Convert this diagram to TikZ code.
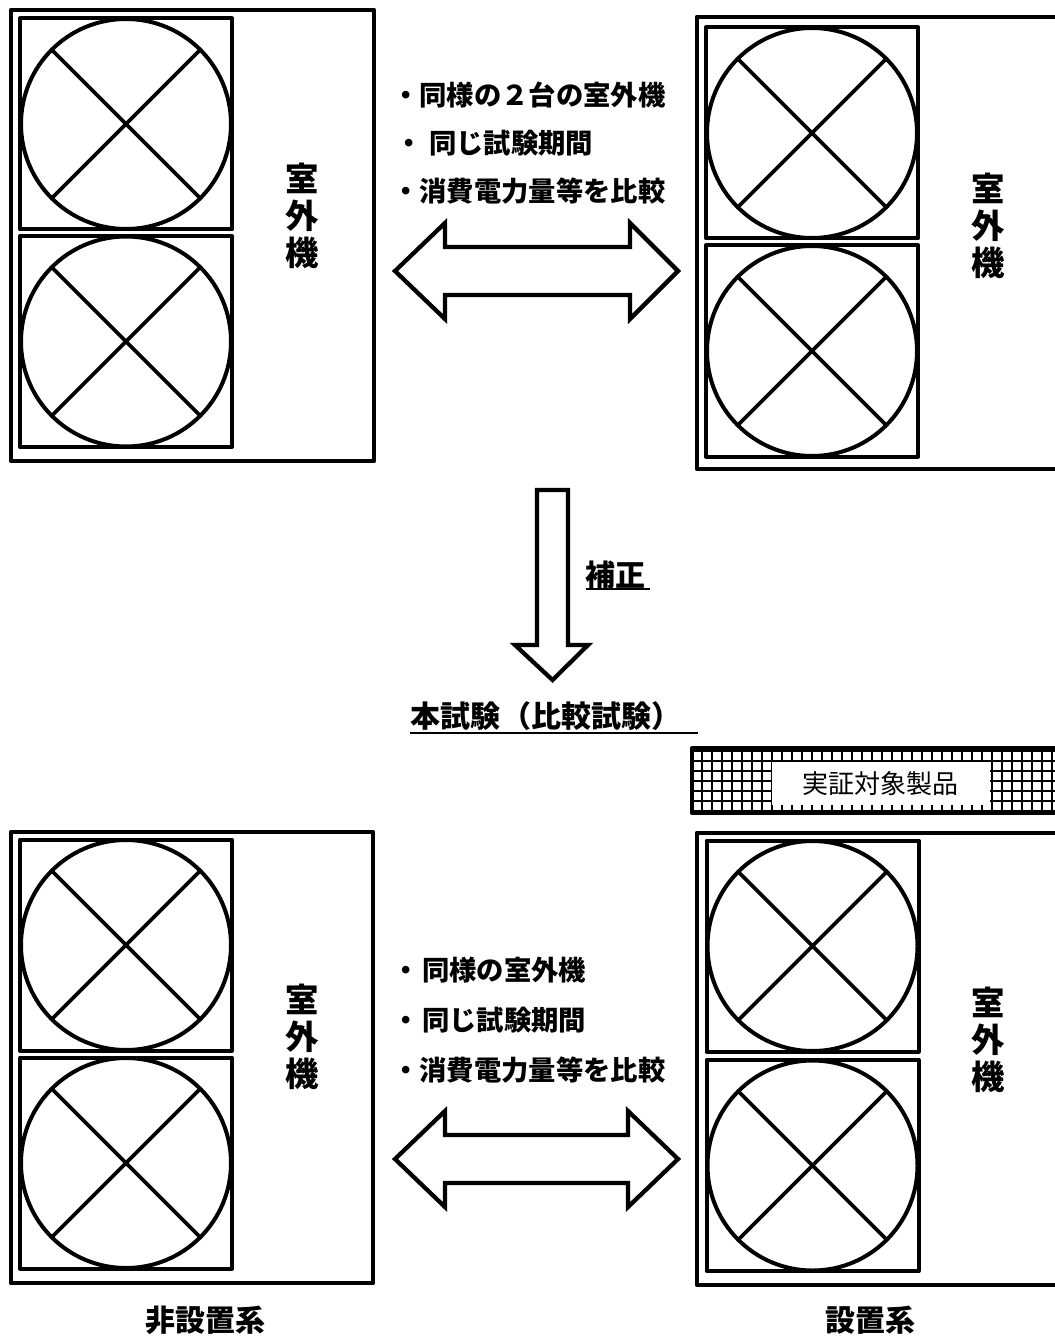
\documentclass[tikz,border=0pt]{standalone}
\usepackage{fontspec}
\newfontfamily\jp{Noto Sans CJK JP}
\newcommand\fanbox[2]{%
  \begin{scope}
    \clip (#1-106,#2-105.5) rectangle (#1+106,#2+105.5);
    \draw[fanline] (#1,#2) circle[radius=105];
  \end{scope}
  \draw[fanline] (#1-106,#2-105.5) rectangle (#1+106,#2+105.5);
  \draw[xline] (#1-74,#2-74) -- (#1+74,#2+74);
  \draw[xline] (#1-74,#2+74) -- (#1+74,#2-74);
}
\begin{document}
\begin{tikzpicture}[x=0.75pt,y=-0.75pt,
  outer/.style={line width=3.4pt,line join=round},
  fanline/.style={line width=3pt,line join=round},
  xline/.style={line width=2.7pt},
  blockarrow/.style={line width=3.2pt,line join=miter,fill=white},
  unitlabel/.style={font=\jp\bfseries\fontsize{25}{27.5}\selectfont,align=center,inner sep=0pt},
  bullet/.style={font=\jp\bfseries\fontsize{20.5}{24}\selectfont,anchor=west,inner sep=0pt},
  title/.style={font=\jp\bfseries\fontsize{22.5}{26}\selectfont,inner sep=0pt},
  uline/.style={line width=1.5pt}]
\useasboundingbox (0,0) rectangle (1055,1337);
\clip (0,0) rectangle (1055,1337);

% ---------- top left unit ----------
\draw[outer] (11,10) rectangle (374,461);
\fanbox{126}{124}
\fanbox{126}{341.5}
\node[unitlabel] (tlLabel) at (302,216) {室\\外\\機};

% ---------- top right unit ----------
\draw[outer] (697,17) rectangle (1070,469);
\fanbox{812}{133}
\fanbox{812}{351}
\node[unitlabel] (trLabel) at (988,226) {室\\外\\機};

% ---------- top texts ----------
\node[bullet] (t1) at (392,95) {・同様の２台の室外機};
\node[bullet] (t2) at (395,143) {・\hspace{5pt}同じ試験期間};
\node[bullet] (t3) at (392,191) {・消費電力量等を比較};

% ---------- top double arrow ----------
\coordinate (tal) at (395,271);
\coordinate (tar) at (678,271);
\draw[blockarrow] (tal) -- (445,223) -- (445,247) -- (630,247) -- (630,223) -- (tar)
  -- (630,319) -- (630,295) -- (445,295) -- (445,319) -- cycle;

% ---------- down arrow ----------
\coordinate (dtop) at (552.5,490);
\coordinate (dtip) at (552.5,680);
\draw[blockarrow] (537,490) -- (568,490) -- (568,645) -- (588,645) -- (dtip)
  -- (515,645) -- (537,645) -- cycle;
\node[title,anchor=west] (hosei) at (585,575) {補正};
\draw[uline] (586,589) -- (650,589);

\node[title,anchor=west] (honshiken) at (410,716) {本試験\hspace{1pt}（比較試験）};
\draw[uline] (410,733) -- (698,733);

% ---------- product bar ----------
\begin{scope}
  \clip (692,748) rectangle (1070,813);
  \foreach \gx in {692,702,...,1072} \draw[line width=1pt] (\gx,748) -- (\gx,813);
  \foreach \gy in {751,761,...,813} \draw[line width=1pt] (692,\gy) -- (1070,\gy);
\end{scope}
\fill[white] (772,762) rectangle (990,805);
\draw[line width=3pt,line join=round] (692,748) rectangle (1070,813);
\node[font=\jp\fontsize{19.5}{22}\selectfont,inner sep=0pt] (product) at (880,784) {実証対象製品};

% ---------- bottom left unit ----------
\draw[outer] (11,832) rectangle (373,1283);
\fanbox{126}{945}
\fanbox{126}{1163}
\node[unitlabel] (blLabel) at (302,1037) {室\\外\\機};

% ---------- bottom right unit ----------
\draw[outer] (697,833) rectangle (1070,1285);
\fanbox{812.5}{946}
\fanbox{812.5}{1165.5}
\node[unitlabel] (brLabel) at (988,1040) {室\\外\\機};

% ---------- bottom texts ----------
\node[bullet] (b1) at (392,970) {・\hspace{2pt}同様の室外機};
\node[bullet] (b2) at (392,1020) {・\hspace{2pt}同じ試験期間};
\node[bullet] (b3) at (392,1070) {・消費電力量等を比較};

% ---------- bottom double arrow ----------
\coordinate (bal) at (395,1159);
\coordinate (bar) at (678,1159);
\draw[blockarrow] (bal) -- (445,1111) -- (445,1135) -- (628,1135) -- (628,1111) -- (bar)
  -- (628,1207) -- (628,1183) -- (445,1183) -- (445,1207) -- cycle;

% ---------- captions ----------
\node[title] (hisetchi) at (205,1320) {非設置系};
\node[title] (setchi) at (870,1320) {設置系};
\end{tikzpicture}
\end{document}
